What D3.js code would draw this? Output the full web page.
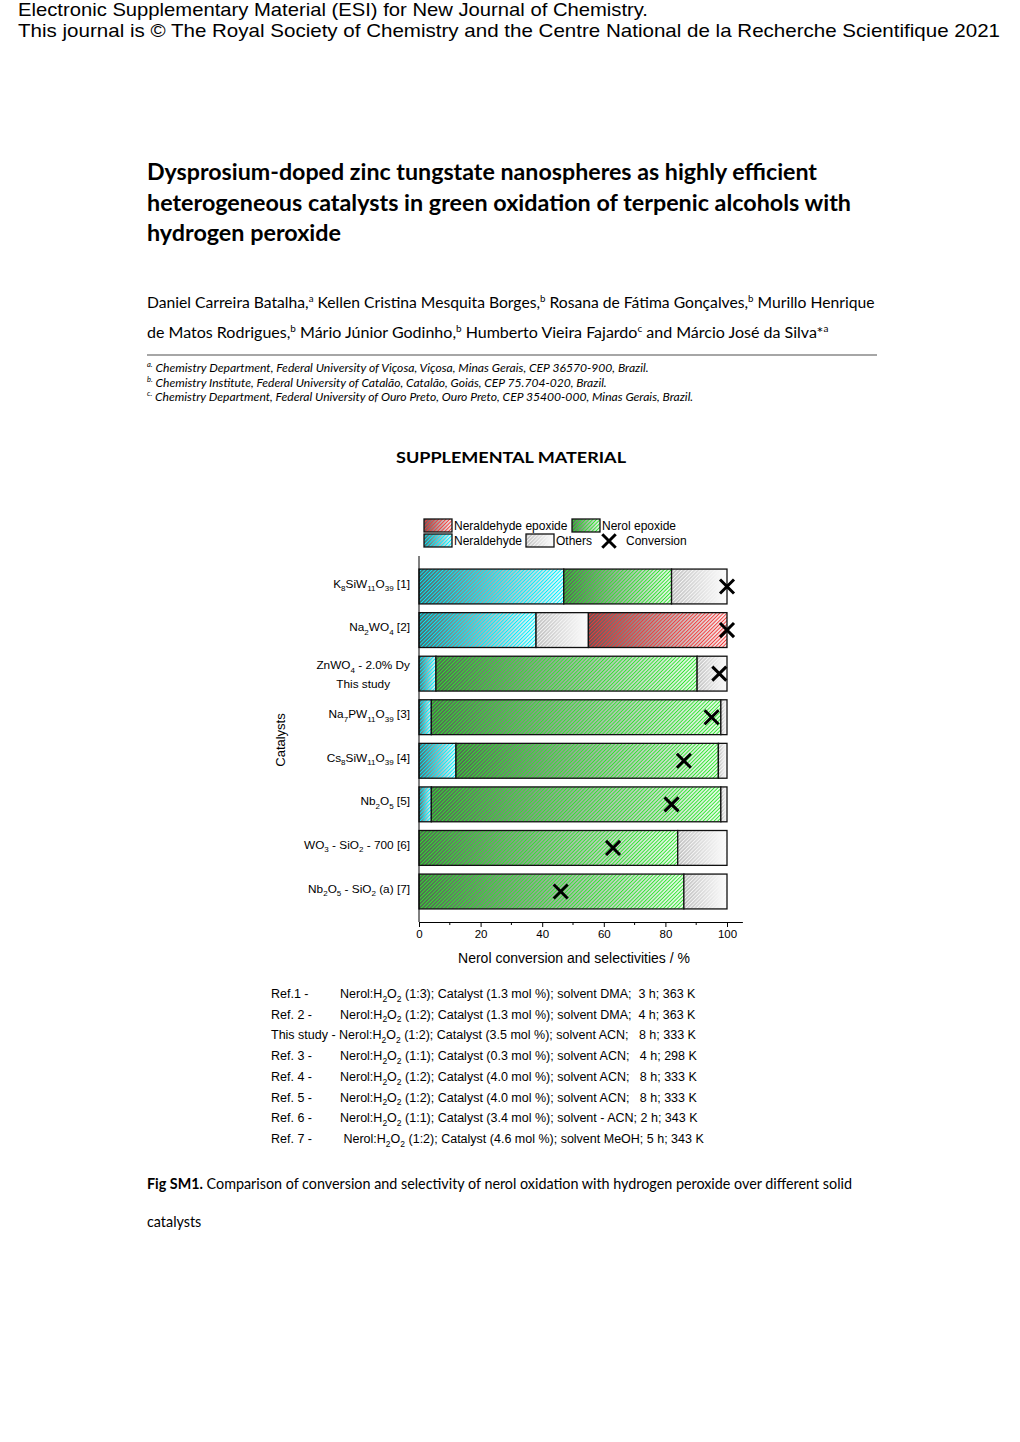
<!DOCTYPE html>
<html lang="en">
<head>
<meta charset="utf-8">
<title>Fig SM1 - Nerol oxidation</title>
<script src="https://d3js.org/d3.v7.min.js"></script>
<style>
  body { margin: 0; background: #fff; }
  svg text { white-space: pre; }
  .arial { font-family: 'Liberation Sans', Arial, sans-serif; fill: #000; }
  .cal { font-family: Lato, 'Open Sans', sans-serif; fill: #000; }
  .axis path, .axis line { stroke: #000; stroke-width: 1; }
  .axis text { font-family: 'Liberation Sans', Arial, sans-serif; }
</style>
</head>
<body>
<svg id="page" width="1020" height="1442"></svg>
<script>
// ---- data ----
var catalysts = ["K_8SiW_11O_39 [1]", "Na_2WO_4 [2]", "ZnWO_4 - 2.0% Dy\nThis study", "Na_7PW_11O_39 [3]",
                 "Cs_8SiW_11O_39 [4]", "Nb_2O_5 [5]", "WO_3 - SiO_2 - 700 [6]", "Nb_2O_5 - SiO_2 (a) [7]"];
var neraldehyde        = [47, 38, 5.5, 4, 12, 4, 0, 0];
var nerolEpoxide       = [35, 0, 84.8, 94, 85.2, 94, 84, 86];
var others             = [18, 17, 9.7, 2, 2.8, 2, 16, 14];
var neraldehydeEpoxide = [0, 45, 0, 0, 0, 0, 0, 0];
var conversion         = [100, 100, 97.5, 95, 86, 82, 63, 46];
var seriesNames = ["Neraldehyde", "Nerol epoxide", "Others", "Neraldehyde epoxide"];
var seriesHatch = ["#00eeff", "#2ee62e", "#f6f6f6", "#f23a3a"];
var seriesDark  = ["#555555", "#555555", "#b8b8b8", "#555555"];
var xTicks = [0, 20, 40, 60, 80, 100];
var xMinor = [10, 30, 50, 70, 90];

var refLabels = ["Ref.1 -", "Ref. 2 -", "This study -", "Ref. 3 -", "Ref. 4 -", "Ref. 5 -", "Ref. 6 -", "Ref. 7 -"];
var conditions = [
  "Nerol:H_2O_2 (1:3); Catalyst (1.3 mol %); solvent DMA;  3 h; 363 K",
  "Nerol:H_2O_2 (1:2); Catalyst (1.3 mol %); solvent DMA;  4 h; 363 K",
  "Nerol:H_2O_2 (1:2); Catalyst (3.5 mol %); solvent ACN;   8 h; 333 K",
  "Nerol:H_2O_2 (1:1); Catalyst (0.3 mol %); solvent ACN;   4 h; 298 K",
  "Nerol:H_2O_2 (1:2); Catalyst (4.0 mol %); solvent ACN;   8 h; 333 K",
  "Nerol:H_2O_2 (1:2); Catalyst (4.0 mol %); solvent ACN;   8 h; 333 K",
  "Nerol:H_2O_2 (1:1); Catalyst (3.4 mol %); solvent - ACN; 2 h; 343 K",
  " Nerol:H_2O_2 (1:2); Catalyst (4.6 mol %); solvent MeOH; 5 h; 343 K"
];

var svg = d3.select("#page");

// splits str on re; odd parts are shifted by `shift` em and scaled by `scale`
function richText(sel, str, re, shift, scale) {
  var parts = str.split(re), cur = 0;
  parts.forEach(function(p, i) {
    if (p === "") return;
    var isS = i % 2 === 1;
    var target = isS ? shift : 0;
    var own = isS ? scale : 1;
    var ts = sel.append("tspan").attr("dy", ((target - cur) / own) + "em").text(p);
    if (isS) ts.style("font-size", scale + "em");
    cur = target;
  });
}
function subText(sel, str) { richText(sel, str, /_(\d+)/, 0.3, 0.68); }
function supText(sel, str) { richText(sel, str, /\^([^\^]*)\^/, -0.4, 0.62); }
function fit(t, width) {
  var fs = parseFloat(t.style("font-size"));
  var len = t.node().getComputedTextLength();
  t.style("font-size", (fs * width / len) + "px");
}

// ---- page header ----
svg.append("text").attr("class", "arial").attr("x", 18).attr("y", 16).style("font-size", "18.5px")
  .attr("textLength", 630).attr("lengthAdjust", "spacingAndGlyphs")
  .text("Electronic Supplementary Material (ESI) for New Journal of Chemistry.");
svg.append("text").attr("class", "arial").attr("x", 18).attr("y", 37).style("font-size", "18.5px")
  .attr("textLength", 982).attr("lengthAdjust", "spacingAndGlyphs")
  .text("This journal is \u00a9 The Royal Society of Chemistry and the Centre National de la Recherche Scientifique 2021");

var titleLines = ["Dysprosium-doped zinc tungstate nanospheres as highly efficient",
                  "heterogeneous catalysts in green oxidation of terpenic alcohols with",
                  "hydrogen peroxide"];
var titleW = [670, 704, 194];
titleLines.forEach(function(l, i) {
  svg.append("text").attr("class", "cal").attr("x", 147).attr("y", 180 + i * 30.5)
    .style("font-size", "22px").style("font-weight", "bold")
    .attr("textLength", titleW[i]).attr("lengthAdjust", "spacingAndGlyphs").text(l);
});

var authors = ["Daniel Carreira Batalha,^a^ Kellen Cristina Mesquita Borges,^b^ Rosana de F\u00e1tima Gon\u00e7alves,^b^ Murillo Henrique",
               "de Matos Rodrigues,^b^ M\u00e1rio J\u00fanior Godinho,^b^ Humberto Vieira Fajardo^c^ and M\u00e1rcio Jos\u00e9 da Silva*^a^"];
var authorW = [728, 682];
authors.forEach(function(l, i) {
  var t = svg.append("text").attr("class", "cal").attr("x", 147).attr("y", 308 + i * 30).style("font-size", "15px");
  supText(t, l);
  fit(t, authorW[i]);
});

svg.append("line").attr("x1", 147).attr("x2", 877).attr("y1", 355).attr("y2", 355)
  .attr("stroke", "#a6a6a6").attr("stroke-width", 2);

var affil = ["^a.^ Chemistry Department, Federal University of Vi\u00e7osa, Vi\u00e7osa, Minas Gerais, CEP 36570-900, Brazil.",
             "^b.^ Chemistry Institute, Federal University of Catal\u00e3o, Catal\u00e3o, Goi\u00e1s, CEP 75.704-020, Brazil.",
             "^c.^ Chemistry Department, Federal University of Ouro Preto, Ouro Preto, CEP 35400-000, Minas Gerais, Brazil."];
var affilW = [502, 460, 547];
affil.forEach(function(l, i) {
  var t = svg.append("text").attr("class", "cal").attr("x", 147).attr("y", 372 + i * 14.5)
    .style("font-size", "10px").style("font-style", "italic");
  supText(t, l);
  fit(t, affilW[i]);
});

svg.append("text").attr("class", "cal").attr("x", 511).attr("y", 463).attr("text-anchor", "middle")
  .style("font-size", "16px").style("font-weight", "bold")
  .attr("textLength", 230).attr("lengthAdjust", "spacingAndGlyphs").text("SUPPLEMENTAL MATERIAL");

// ---- chart ----
var x = d3.scaleLinear().domain([0, 105]).range([419, 742.4]);
var y = d3.scaleBand().domain(catalysts).range([556, 922]).paddingInner(0.2).paddingOuter(0.3);

var defs = svg.append("defs");
seriesNames.forEach(function(s, i) {
  var g = defs.append("linearGradient").attr("id", "grad" + i);
  g.append("stop").attr("offset", 0).attr("stop-color", seriesDark[i]);
  g.append("stop").attr("offset", 1).attr("stop-color", "#ffffff");
  var p = defs.append("pattern").attr("id", "hatch" + i).attr("patternUnits", "userSpaceOnUse")
    .attr("width", 2.6).attr("height", 2.6).attr("patternTransform", "rotate(45)");
  p.append("line").attr("x1", 1.3).attr("x2", 1.3).attr("y1", 0).attr("y2", 2.6)
    .attr("stroke", seriesHatch[i]).attr("stroke-width", 1.1);
});

var rows = catalysts.map(function(c, i) {
  return { cat: c, "Neraldehyde": neraldehyde[i], "Nerol epoxide": nerolEpoxide[i],
           "Others": others[i], "Neraldehyde epoxide": neraldehydeEpoxide[i] };
});
var stacked = d3.stack().keys(seriesNames)(rows);

function swatch(g, i, x0, y0, w, h) {
  g.append("rect").attr("x", x0).attr("y", y0).attr("width", w).attr("height", h).attr("fill", "url(#grad" + i + ")");
  g.append("rect").attr("x", x0).attr("y", y0).attr("width", w).attr("height", h).attr("fill", "url(#hatch" + i + ")");
  g.append("rect").attr("x", x0).attr("y", y0).attr("width", w).attr("height", h)
    .attr("fill", "none").attr("stroke", "#111").attr("stroke-width", 1.3);
}

var bars = svg.append("g");
stacked.forEach(function(layer, si) {
  layer.forEach(function(d) {
    if (d[1] - d[0] <= 0) return;
    swatch(bars, si, x(d[0]), y(d.data.cat), x(d[1]) - x(d[0]), y.bandwidth());
  });
});

// conversion markers
svg.append("g").selectAll("path").data(catalysts).enter().append("path")
  .attr("d", d3.symbol().type(d3.symbolX).size(130))
  .attr("transform", function(d, i) { return "translate(" + x(conversion[i]) + "," + (y(d) + y.bandwidth() / 2) + ")"; })
  .attr("fill", "none").attr("stroke", "#000").attr("stroke-width", 3);

// axes
var xAxis = svg.append("g").attr("class", "axis").attr("transform", "translate(0,922)")
  .call(d3.axisBottom(x).tickValues(xTicks).tickSize(5).tickSizeOuter(0).tickPadding(3));
xAxis.selectAll("text").style("font-size", "11.5px");
svg.append("g").attr("class", "axis").selectAll("line").data(xMinor).enter().append("line")
  .attr("x1", function(d) { return x(d); }).attr("x2", function(d) { return x(d); })
  .attr("y1", 922).attr("y2", 925).attr("stroke", "#000");
svg.append("line").attr("x1", 419).attr("x2", 419).attr("y1", 556).attr("y2", 922).attr("stroke", "#000");

svg.append("text").attr("class", "arial").attr("x", 574).attr("y", 963).attr("text-anchor", "middle")
  .style("font-size", "14px").text("Nerol conversion and selectivities / %");
svg.append("text").attr("class", "arial").attr("transform", "translate(285,740) rotate(-90)")
  .attr("text-anchor", "middle").style("font-size", "13px").text("Catalysts");

// category labels
catalysts.forEach(function(c, i) {
  var lines = c.split("\n");
  var cy = y(c) + y.bandwidth() / 2;
  if (lines.length === 1) {
    var t = svg.append("text").attr("class", "arial").attr("x", 410).attr("y", cy + 1)
      .attr("text-anchor", "end").style("font-size", "11.8px");
    subText(t, c);
  } else {
    var t1 = svg.append("text").attr("class", "arial").attr("x", 410).attr("y", cy - 4.5)
      .attr("text-anchor", "end").style("font-size", "11.8px");
    subText(t1, lines[0]);
    var w = t1.node().getComputedTextLength();
    svg.append("text").attr("class", "arial").attr("x", 410 - w / 2).attr("y", cy + 14.5)
      .attr("text-anchor", "middle").style("font-size", "11.8px").text(lines[1]);
  }
});

// legend
var legend = svg.append("g");
var legendItems = [
  { s: 3, bx: 424, by: 519, tx: 454 },
  { s: 1, bx: 572, by: 519, tx: 602 },
  { s: 0, bx: 424, by: 534, tx: 454 },
  { s: 2, bx: 526, by: 534, tx: 556 }
];
legendItems.forEach(function(it) {
  swatch(legend, it.s, it.bx, it.by, 28, 13);
  legend.append("text").attr("class", "arial").attr("x", it.tx).attr("y", it.by + 11)
    .style("font-size", "12px").text(seriesNames[it.s]);
});
legend.append("path").attr("d", d3.symbol().type(d3.symbolX).size(120))
  .attr("transform", "translate(609,541)").attr("fill", "none").attr("stroke", "#000").attr("stroke-width", 3);
legend.append("text").attr("class", "arial").attr("x", 626).attr("y", 545)
  .style("font-size", "12px").text("Conversion");

// reaction conditions
refLabels.forEach(function(r, i) {
  var yy = 998 + i * 20.7;
  if (r === "This study -") {
    var t = svg.append("text").attr("class", "arial").attr("x", 271).attr("y", yy).style("font-size", "12.5px");
    subText(t, r + " " + conditions[i]);
  } else {
    svg.append("text").attr("class", "arial").attr("x", 271).attr("y", yy).style("font-size", "12.5px").text(r);
    var t2 = svg.append("text").attr("class", "arial").attr("x", 340).attr("y", yy).style("font-size", "12.5px");
    subText(t2, conditions[i]);
  }
});

// caption
var cap = svg.append("text").attr("class", "cal").attr("x", 147).attr("y", 1189).style("font-size", "13px");
cap.append("tspan").style("font-weight", "bold").text("Fig SM1.");
cap.append("tspan").text(" Comparison of conversion and selectivity of nerol oxidation with hydrogen peroxide over different solid");
fit(cap, 706);
svg.append("text").attr("class", "cal").attr("x", 147).attr("y", 1227)
  .style("font-size", cap.style("font-size")).text("catalysts");
</script>
</body>
</html>
